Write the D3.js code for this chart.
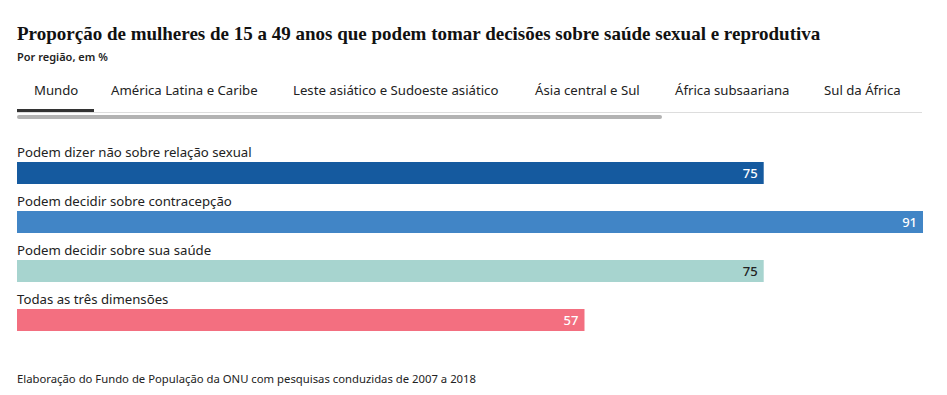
<!DOCTYPE html>
<html>
<head>
<meta charset="utf-8">
<script src="https://cdn.jsdelivr.net/npm/d3@7"></script>
<style>
  body { margin: 0; background: #fff; }
  svg text { font-family: "Noto Sans", sans-serif; }
</style>
</head>
<body>
<svg id="chart" width="947" height="395"></svg>
<script>
// data
var tabs = ["Mundo", "América Latina e Caribe", "Leste asiático e Sudoeste asiático", "Ásia central e Sul", "África subsaariana", "Sul da África"];
var categories = ["Podem dizer não sobre relação sexual", "Podem decidir sobre contracepção", "Podem decidir sobre sua saúde", "Todas as três dimensões"];
var values = [75, 91, 75, 57];
var colors = ["#155a9f", "#4185c6", "#a7d4cf", "#f36f80"];
var labelColors = ["#fff", "#fff", "#222", "#fff"];

var svg = d3.select("#chart");

svg.append("text")
    .attr("x", 17).attr("y", 40)
    .style("font-family", "'Liberation Serif', serif")
    .style("font-weight", "bold")
    .style("font-size", "19px")
    .attr("fill", "#111")
    .text("Proporção de mulheres de 15 a 49 anos que podem tomar decisões sobre saúde sexual e reprodutiva");

svg.append("text")
    .attr("x", 17).attr("y", 61)
    .style("font-size", "11px")
    .style("font-weight", "600")
    .attr("fill", "#222")
    .text("Por região, em %");

// tabs
var tabX = [34, 111, 293, 535, 675, 824];
svg.selectAll(".tab").data(tabs).enter().append("text")
    .attr("class", "tab")
    .attr("x", function(d, i) { return tabX[i]; })
    .attr("y", 95)
    .style("font-size", "13.2px")
    .attr("fill", "#222")
    .text(function(d) { return d; });

svg.append("rect").attr("x", 17).attr("y", 112).attr("width", 905).attr("height", 1).attr("fill", "#ddd");
svg.append("rect").attr("x", 17).attr("y", 109).attr("width", 77).attr("height", 3).attr("fill", "#333");
svg.append("rect").attr("x", 17).attr("y", 115).attr("width", 645).attr("height", 4).attr("rx", 2).attr("fill", "#b3b3b3");

// bars
var x = d3.scaleLinear().domain([0, 91]).range([17, 923]);
var y = d3.scaleBand().domain(categories).range([142, 338]).paddingInner(0).paddingOuter(0);

var g = svg.selectAll(".row").data(categories).enter().append("g")
    .attr("class", "row")
    .attr("transform", function(d) { return "translate(0," + y(d) + ")"; });

g.append("text")
    .attr("x", 17).attr("y", 15)
    .style("font-size", "13.2px")
    .attr("fill", "#222")
    .text(function(d) { return d; });

g.append("rect")
    .attr("x", x(0)).attr("y", 20)
    .attr("width", function(d, i) { return x(values[i]) - x(0); })
    .attr("height", 22)
    .attr("fill", function(d, i) { return colors[i]; });

g.append("text")
    .attr("x", function(d, i) { return x(values[i]) - 6; })
    .attr("y", 36)
    .attr("text-anchor", "end")
    .style("font-size", "13px")
    .style("font-weight", "500")
    .attr("fill", function(d, i) { return labelColors[i]; })
    .text(function(d, i) { return values[i]; });

svg.append("text")
    .attr("x", 17).attr("y", 383)
    .style("font-size", "11.3px")
    .attr("fill", "#222")
    .text("Elaboração do Fundo de População da ONU com pesquisas conduzidas de 2007 a 2018");
</script>
</body>
</html>
